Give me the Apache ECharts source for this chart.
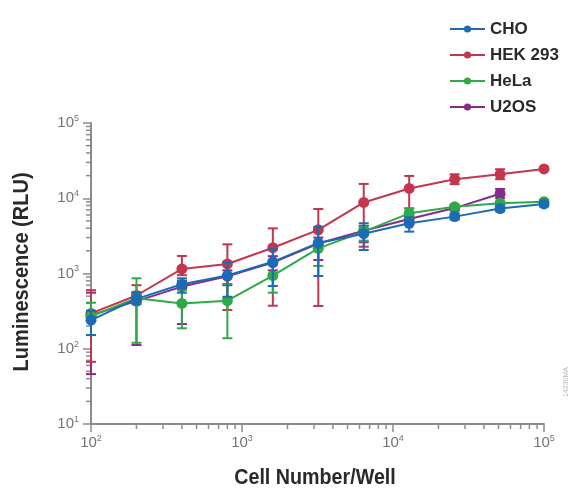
<!DOCTYPE html>
<html>
<head>
<meta charset="utf-8">
<title>Luminescence vs cell number</title>
<script src="https://cdn.jsdelivr.net/npm/echarts@6/dist/echarts.min.js"></script>
<style>
  html, body { margin: 0; padding: 0; background: #ffffff; }
  #chart { width: 574px; height: 496px; }
</style>
</head>
<body>
<div id="chart"></div>
<script>
// Cell numbers per well (log scale)
const cellNumbers = [100, 200, 400, 800, 1600, 3200, 6400, 12800, 25600, 51200, 100000];

// Mean luminescence (RLU) and error bar bounds per cell line
const choMean = [240, 460, 720, 940, 1430, 2550, 3380, 4650, 5700, 7300, 8400];
const choLow  = [152, 390, 556, 490, 682, 927, 2050, 3600, 5200, 6700, 7800];
const choHigh = [320, 560, 863, 1410, 2110, 4170, 4650, 5600, 6300, 8000, 9000];

const hekMean = [295, 510, 1150, 1340, 2200, 3800, 8800, 13500, 17900, 20800, 24500];
const hekLow  = [67, 430, 950, 327, 373, 370, 2270, 7340, 15400, 17900, 23500];
const hekHigh = [600, 700, 1710, 2440, 3980, 7200, 15500, 19800, 20800, 24300, 25500];

const helaMean = [270, 470, 400, 436, 935, 2160, 3600, 6300, 7700, 8570, 8990];
const helaLow  = [152, 120, 187, 138, 556, 1260, 2730, 5400, 7200, 8000, 8500];
const helaHigh = [409, 863, 600, 725, 1300, 2600, 4200, 7300, 8200, 9100, 9500];

const u2osMean = [280, 430, 670, 920, 1400, 2500, 3700, 5300, 7400, 11500];
const u2osLow  = [46, 112, 213, 700, 1100, 1510, 2600, 4500, 6900, 10000];
const u2osHigh = [556, 560, 800, 1100, 1700, 3000, 4300, 6000, 8000, 13300];

// Axis ranges and minor tick positions
const xMin = 100, xMax = 100000;
const yMin = 10, yMax = 100000;
const xMinorTicks = [200, 300, 400, 500, 600, 700, 800, 900,
                     2000, 3000, 4000, 5000, 6000, 7000, 8000, 9000,
                     20000, 30000, 40000, 50000, 60000, 70000, 80000, 90000];
const yMinorTicks = [20, 30, 40, 50, 60, 70, 80, 90,
                     200, 300, 400, 500, 600, 700, 800, 900,
                     2000, 3000, 4000, 5000, 6000, 7000, 8000, 9000,
                     20000, 30000, 40000, 50000, 60000, 70000, 80000, 90000];

const xTitle = 'Cell Number/Well';
const yTitle = 'Luminescence (RLU)';

const COLORS = { cho: '#1a6db5', hek: '#c2364e', hela: '#2eaa48', u2os: '#862a8c' };
const FONT = "'Liberation Sans', Arial, sans-serif";
const AXIS_GRAY = '#8c8c8c';
const TEXT_DARK = '#2a2a2a';

function pairs(xs, ys) {
  return ys.map((y, i) => [xs[i], y]);
}

function errorData(xs, lows, highs) {
  return lows.map((lo, i) => [xs[i], lo, highs[i]]);
}

function lineSeries(name, ys, color, z) {
  return {
    name: name,
    type: 'line',
    data: pairs(cellNumbers, ys),
    symbol: 'circle',
    symbolSize: 11,
    z: z,
    lineStyle: { color: color, width: 2 },
    itemStyle: { color: color },
    emphasis: { disabled: true }
  };
}

function errorSeries(name, lows, highs, color, z) {
  return {
    name: name,
    type: 'custom',
    z: z,
    silent: true,
    data: errorData(cellNumbers, lows, highs),
    encode: { x: 0, y: [1, 2] },
    renderItem: function (params, api) {
      const x = api.value(0);
      const lo = api.coord([x, api.value(1)]);
      const hi = api.coord([x, api.value(2)]);
      const half = 5;
      const style = { stroke: color, lineWidth: 2 };
      return {
        type: 'group',
        children: [
          { type: 'line', shape: { x1: lo[0], y1: lo[1], x2: hi[0], y2: hi[1] }, style: style },
          { type: 'line', shape: { x1: hi[0] - half, y1: hi[1], x2: hi[0] + half, y2: hi[1] }, style: style },
          { type: 'line', shape: { x1: lo[0] - half, y1: lo[1], x2: lo[0] + half, y2: lo[1] }, style: style }
        ]
      };
    }
  };
}

// Minor ticks at 2..9 within each decade, drawn outside the axes
const minorTickSeries = {
  type: 'custom',
  silent: true,
  z: 1,
  data: xMinorTicks.map(v => [v, yMin, 0]).concat(yMinorTicks.map(v => [xMin, v, 1])),
  renderItem: function (params, api) {
    const p = api.coord([api.value(0), api.value(1)]);
    const len = 5;
    const shape = api.value(2) === 0
      ? { x1: p[0], y1: p[1], x2: p[0], y2: p[1] + len }
      : { x1: p[0] - len, y1: p[1], x2: p[0], y2: p[1] };
    return { type: 'line', shape: shape, style: { stroke: AXIS_GRAY, lineWidth: 1.5 } };
  }
};

function powerLabel(value) {
  const e = Math.round(Math.log10(value));
  return '{b|10}{s|' + e + '}';
}

const tickRich = {
  b: { fontFamily: FONT, fontSize: 15, color: '#747474', lineHeight: 18 },
  s: { fontFamily: FONT, fontSize: 9, color: '#747474', verticalAlign: 'top', lineHeight: 10 }
};

const chart = echarts.init(document.getElementById('chart'), null, { renderer: 'canvas' });

chart.setOption({
  animation: false,
  backgroundColor: '#ffffff',
  grid: { left: 91, right: 30, top: 123, bottom: 72, containLabel: false },
  legend: {
    orient: 'vertical',
    left: 444,
    top: 15,
    data: ['CHO', 'HEK 293', 'HeLa', 'U2OS'],
    itemWidth: 35,
    itemHeight: 9,
    itemGap: 8,
    textStyle: { fontFamily: FONT, fontSize: 17, fontWeight: 'bold', color: TEXT_DARK, lineHeight: 18 },
    selectedMode: false
  },
  xAxis: {
    type: 'log',
    logBase: 10,
    min: xMin,
    max: xMax,
    axisLine: { show: true, onZero: false, lineStyle: { color: AXIS_GRAY, width: 2 } },
    axisTick: { show: true, length: 8, lineStyle: { color: AXIS_GRAY, width: 1.5 } },
    minorTick: { show: false },
    splitLine: { show: false },
    axisLabel: { margin: 10, formatter: powerLabel, rich: tickRich }
  },
  yAxis: {
    type: 'log',
    logBase: 10,
    min: yMin,
    max: yMax,
    axisLine: { show: true, onZero: false, lineStyle: { color: AXIS_GRAY, width: 2 } },
    axisTick: { show: true, length: 8, lineStyle: { color: AXIS_GRAY, width: 1.5 } },
    minorTick: { show: false },
    splitLine: { show: false },
    axisLabel: { margin: 12, formatter: powerLabel, rich: tickRich }
  },
  graphic: [
    {
      // x-axis title, condensed horizontally
      type: 'text',
      x: 315,
      y: 478,
      scaleX: 0.895,
      style: {
        text: xTitle,
        fontFamily: FONT,
        fontSize: 22,
        fontWeight: 'bold',
        fill: TEXT_DARK,
        align: 'center',
        verticalAlign: 'middle'
      }
    },
    {
      // y-axis title, rotated and condensed along its length
      type: 'text',
      x: 22,
      y: 272,
      rotation: Math.PI / 2,
      scaleX: 0.91,
      style: {
        text: yTitle,
        fontFamily: FONT,
        fontSize: 22,
        fontWeight: 'bold',
        fill: TEXT_DARK,
        align: 'center',
        verticalAlign: 'middle'
      }
    },
    {
      type: 'text',
      x: 566,
      y: 382,
      rotation: Math.PI / 2,
      style: {
        text: '14230MA',
        fontFamily: FONT,
        fontSize: 7,
        fill: '#b8b8b8',
        align: 'center',
        verticalAlign: 'middle'
      }
    }
  ],
  series: [
    lineSeries('CHO', choMean, COLORS.cho, 5),
    lineSeries('HEK 293', hekMean, COLORS.hek, 3),
    lineSeries('HeLa', helaMean, COLORS.hela, 4),
    lineSeries('U2OS', u2osMean, COLORS.u2os, 2),
    errorSeries('CHO', choLow, choHigh, COLORS.cho, 5),
    errorSeries('HEK 293', hekLow, hekHigh, COLORS.hek, 3),
    errorSeries('HeLa', helaLow, helaHigh, COLORS.hela, 4),
    errorSeries('U2OS', u2osLow, u2osHigh, COLORS.u2os, 2),
    minorTickSeries
  ]
});
</script>
</body>
</html>
